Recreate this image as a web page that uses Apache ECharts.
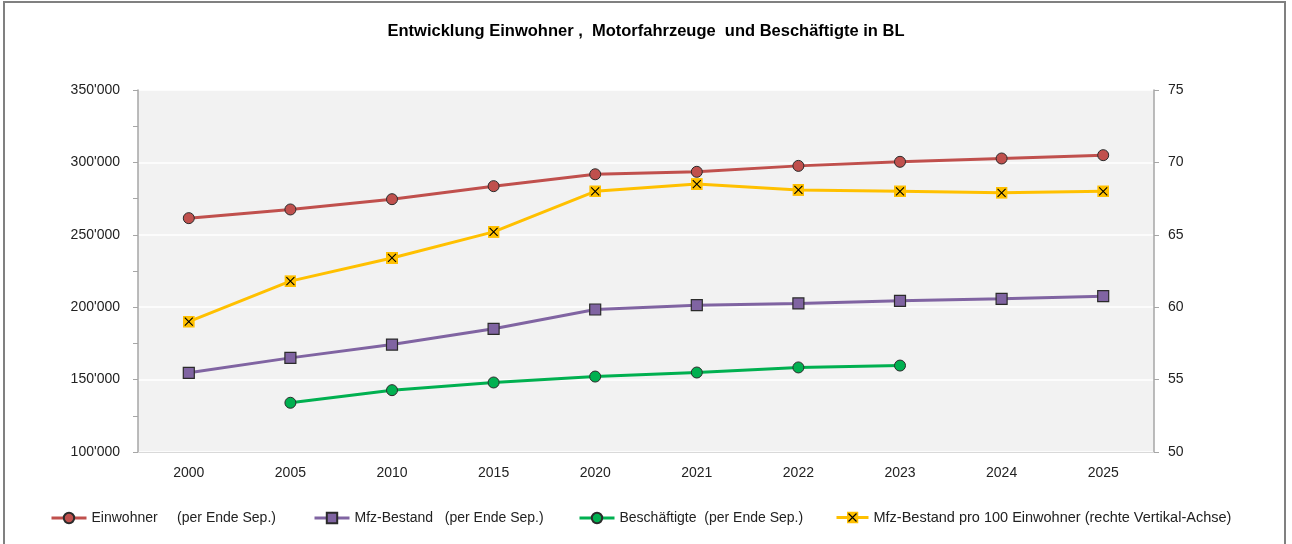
<!DOCTYPE html>
<html>
<head>
<meta charset="utf-8">
<script src="https://cdn.jsdelivr.net/npm/echarts@6/dist/echarts.min.js"></script>
<style>
  html, body { margin: 0; padding: 0; background: #fff; }
  #chart { width: 1292px; height: 544px; }
</style>
</head>
<body>
<div id="chart"></div>
<script>
// Jahre (Kategorien)
const years = ['2000', '2005', '2010', '2015', '2020', '2021', '2022', '2023', '2024', '2025'];

// Werte
const einwohner = [261500, 267500, 274600, 283600, 291800, 293500, 297600, 300400, 302700, 305000];
const mfzBestand = [154700, 165000, 174200, 185100, 198400, 201400, 202600, 204400, 205800, 207600];
const beschaeftigte = [null, 134000, 142700, 148000, 152100, 154900, 158400, 159700, null, null];
const mfzPro100 = [59.0, 61.8, 63.4, 65.2, 68.0, 68.5, 68.1, 68.0, 67.9, 68.0];

// Achsen-Beschriftungen
const leftTicks = [100000, 150000, 200000, 250000, 300000, 350000];
const rightTicks = [50, 55, 60, 65, 70, 75];

const seriesNames = [
  'Einwohner     (per Ende Sep.)',
  'Mfz-Bestand   (per Ende Sep.)',
  'Beschäftigte  (per Ende Sep.)',
  'Mfz-Bestand pro 100 Einwohner (rechte Vertikal-Achse)'
];

const FONT = "'Liberation Sans', Arial, sans-serif";

const xSymbol = 'image://data:image/svg+xml;charset=utf-8,' + encodeURIComponent(
  "<svg xmlns='http://www.w3.org/2000/svg' width='24' height='24'>" +
  "<rect width='24' height='24' fill='#FFC000'/>" +
  "<path d='M4 4L20 20M20 4L4 20' stroke='#000' stroke-width='2.2'/></svg>"
);

const fmtThousands = v => {
  const s = String(Math.round(v));
  return s.replace(/\B(?=(\d{3})+(?!\d))/g, "'");
};

const chart = echarts.init(document.getElementById('chart'), null, { renderer: 'canvas' });

const legendStyle = {
  top: 511,
  padding: 0,
  itemWidth: 35,
  itemHeight: 13,
  itemGap: 5,
  lineStyle: { width: 3 },
  textStyle: { color: '#222', fontSize: 14, fontFamily: FONT }
};

const option = {
  animation: false,
  backgroundColor: '#fff',
  title: {
    text: 'Entwicklung Einwohner ,  Motorfahrzeuge  und Beschäftigte in BL',
    left: 'center',
    top: 18,
    textStyle: { fontSize: 16.5, fontWeight: 'bold', color: '#000', fontFamily: FONT }
  },
  graphic: [{
    type: 'rect',
    shape: { x: 4, y: 2, width: 1281, height: 600 },
    style: { fill: 'none', stroke: '#808080', lineWidth: 2 },
    silent: true
  }],
  legend: [
    Object.assign({ left: 50, data: [seriesNames[0]] }, legendStyle),
    Object.assign({ left: 313, data: [seriesNames[1]] }, legendStyle),
    Object.assign({ left: 578, data: [seriesNames[2]] }, legendStyle),
    Object.assign({}, legendStyle, {
      top: 510,
      left: 835,
      itemWidth: 32,
      itemHeight: 15,
      data: [seriesNames[3]],
      textStyle: { color: '#222', fontSize: 14.5, fontFamily: FONT }
    })
  ],
  grid: {
    left: 138,
    right: 138,
    top: 90,
    bottom: 92,
    show: true,
    backgroundColor: '#F2F2F2',
    borderWidth: 0
  },
  xAxis: {
    type: 'category',
    data: years,
    boundaryGap: true,
    axisLine: { show: true, lineStyle: { color: '#D9D9D9', width: 1 } },
    axisTick: { show: false },
    axisLabel: { color: '#222', fontSize: 14, fontFamily: FONT, margin: 14 }
  },
  yAxis: [
    {
      type: 'value',
      min: leftTicks[0],
      max: leftTicks[leftTicks.length - 1],
      interval: 50000,
      axisLine: { show: true, lineStyle: { color: '#A6A6A6', width: 1.5 } },
      axisTick: { show: true, length: 5, lineStyle: { color: '#A6A6A6' } },
      minorTick: { show: true, splitNumber: 2, length: 5, lineStyle: { color: '#A6A6A6' } },
      splitLine: { show: true, lineStyle: { color: '#FFFFFF', width: 1.5 } },
      axisLabel: {
        color: '#222', fontSize: 14, fontFamily: FONT, margin: 18,
        formatter: v => fmtThousands(v)
      }
    },
    {
      type: 'value',
      min: rightTicks[0],
      max: rightTicks[rightTicks.length - 1],
      interval: 5,
      position: 'right',
      axisLine: { show: true, lineStyle: { color: '#A6A6A6', width: 1.5 } },
      axisTick: { show: true, length: 5, lineStyle: { color: '#A6A6A6' } },
      splitLine: { show: false },
      axisLabel: { color: '#222', fontSize: 14, fontFamily: FONT, margin: 14 }
    }
  ],
  series: [
    {
      name: seriesNames[0],
      type: 'line',
      data: einwohner,
      yAxisIndex: 0,
      symbol: 'circle',
      symbolSize: 11,
      lineStyle: { color: '#C0504D', width: 3 },
      itemStyle: { color: '#C0504D', borderColor: '#2b2b2b', borderWidth: 1 },
      z: 3
    },
    {
      name: seriesNames[1],
      type: 'line',
      data: mfzBestand,
      yAxisIndex: 0,
      symbol: 'rect',
      symbolSize: 11,
      lineStyle: { color: '#8064A2', width: 3 },
      itemStyle: { color: '#8064A2', borderColor: '#2b2b2b', borderWidth: 1.2 },
      z: 3
    },
    {
      name: seriesNames[2],
      type: 'line',
      data: beschaeftigte,
      yAxisIndex: 0,
      symbol: 'circle',
      symbolSize: 11,
      connectNulls: false,
      lineStyle: { color: '#00B050', width: 3 },
      itemStyle: { color: '#00B050', borderColor: '#2b2b2b', borderWidth: 1 },
      z: 3
    },
    {
      name: seriesNames[3],
      type: 'line',
      data: mfzPro100,
      yAxisIndex: 1,
      symbol: xSymbol,
      symbolSize: 12,
      lineStyle: { color: '#FFC000', width: 3 },
      itemStyle: { color: '#FFC000' },
      z: 2
    }
  ]
};

chart.setOption(option);
</script>
</body>
</html>
